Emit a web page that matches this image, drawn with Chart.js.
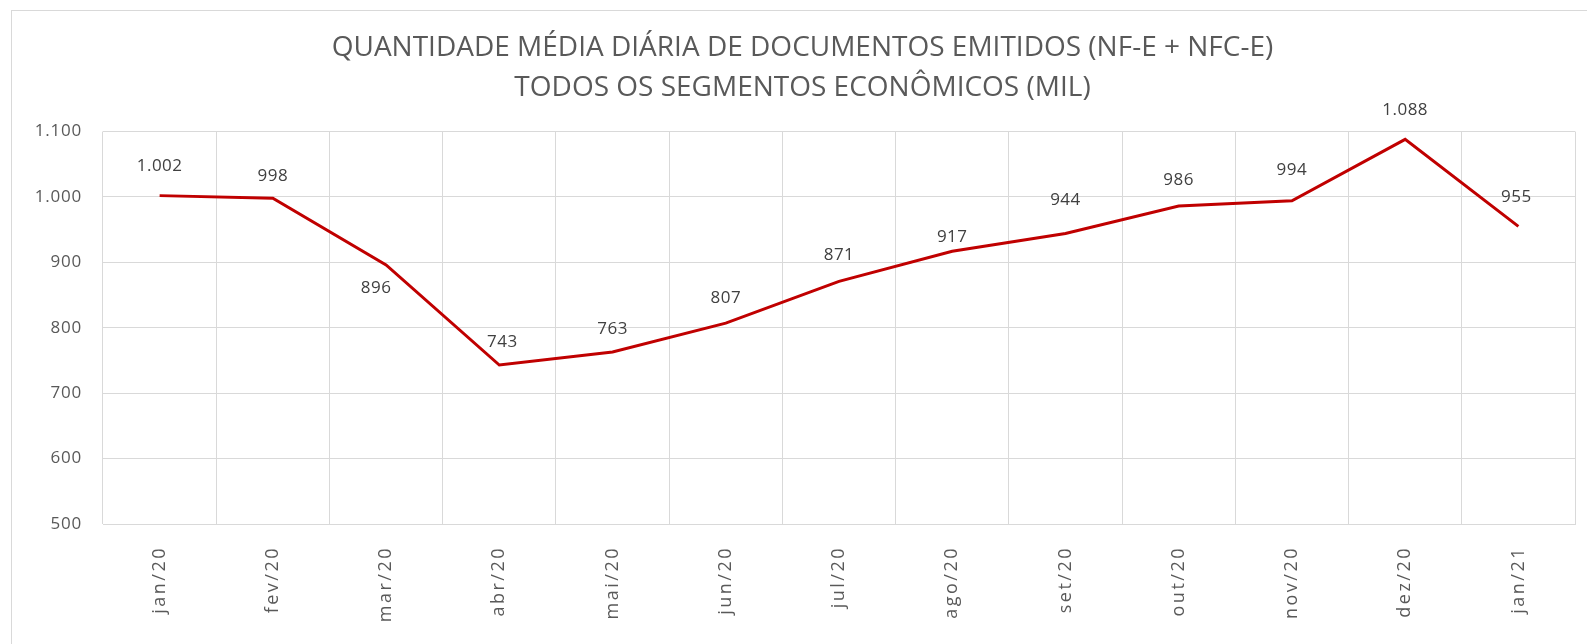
<!DOCTYPE html>
<html>
<head>
<meta charset="utf-8">
<script src="https://cdn.jsdelivr.net/npm/chart.js@4.4.0/dist/chart.umd.min.js"></script>
<style>
  html, body { margin: 0; padding: 0; background: #fff; }
  #wrap { position: relative; width: 1587px; height: 644px; overflow: hidden; }
  #frame { position: absolute; left: 11px; top: 10px; width: 1600px; height: 700px; border: 1px solid #d9d9d9; box-sizing: border-box; }
  canvas { position: absolute; left: 0; top: 0; }
</style>
</head>
<body>
<div id="wrap">
  <div id="frame"></div>
  <canvas id="chart" width="1587" height="644"></canvas>
</div>
<script>
const months = ["jan/20","fev/20","mar/20","abr/20","mai/20","jun/20","jul/20","ago/20","set/20","out/20","nov/20","dez/20","jan/21"];
const docs = [1002, 998, 896, 743, 763, 807, 871, 917, 944, 986, 994, 1088, 955];
const titleLines = ["QUANTIDADE MÉDIA DIÁRIA DE DOCUMENTOS EMITIDOS (NF-E + NFC-E)", "TODOS OS SEGMENTOS ECONÔMICOS (MIL)"];

// label offsets (dx, dy) from each point, px
const labelOffsets = [[0,-29],[0,-22],[-10,23],[3,-23],[0,-23],[0,-25],[0,-26],[0,-14],[0,-33],[0,-26],[0,-31],[0,-29],[-2,-29]];

const fmt = v => v.toLocaleString("pt-BR");

const valueLabels = {
  id: "valueLabels",
  afterDatasetsDraw(chart) {
    const ctx = chart.ctx;
    const meta = chart.getDatasetMeta(0);
    ctx.save();
    ctx.font = "17px 'Open Sans'";
    ctx.letterSpacing = "0.5px";
    ctx.fillStyle = "#404040";
    ctx.textAlign = "center";
    ctx.textBaseline = "middle";
    meta.data.forEach((pt, i) => {
      const o = labelOffsets[i];
      ctx.fillText(fmt(docs[i]), pt.x + o[0], pt.y + o[1]);
    });
    ctx.restore();
  }
};

// the month labels in the original are widely spaced
function spaceLabels(scale, spacing) {
  if (scale._spaced) return;
  const orig = scale.drawLabels.bind(scale);
  scale.drawLabels = function (area) {
    const c = this.ctx;
    c.save();
    c.letterSpacing = spacing;
    orig(area);
    c.restore();
  };
  scale._spaced = true;
}

new Chart(document.getElementById("chart"), {
  type: "line",
  data: {
    labels: months,
    datasets: [{
      data: docs,
      borderColor: "#c00000",
      borderWidth: 3,
      pointRadius: 0,
      tension: 0
    }]
  },
  options: {
    responsive: false,
    animation: false,
    layout: { padding: { top: 11, left: 30, right: 12, bottom: 0 } },
    plugins: {
      legend: { display: false },
      tooltip: { enabled: false },
      title: {
        display: true,
        text: titleLines,
        color: "#595959",
        font: { family: "'Open Sans'", size: 28, weight: "normal", lineHeight: 1.42 },
        padding: { top: 17, bottom: 24 }
      }
    },
    scales: {
      x: {
        offset: true,
        grid: { offset: true, color: "#d9d9d9", lineWidth: 1, drawTicks: false },
        border: { display: true, color: "#d9d9d9" },
        ticks: {
          color: "#595959",
          font: { family: "'Open Sans'", size: 18 },
          minRotation: 90,
          maxRotation: 90,
          padding: 22
        },
        afterFit(s) { s.height = 120; spaceLabels(s, "2.5px"); }
      },
      y: {
        min: 500,
        max: 1100,
        grid: { color: "#d9d9d9", lineWidth: 1, drawTicks: false },
        border: { display: false },
        ticks: {
          stepSize: 100,
          color: "#595959",
          font: { family: "'Open Sans'", size: 17 },
          padding: 21,
          callback: v => fmt(v)
        },
        afterFit(s) { s.width = 73; spaceLabels(s, "0.8px"); }
      }
    }
  },
  plugins: [valueLabels]
});
</script>
</body>
</html>
